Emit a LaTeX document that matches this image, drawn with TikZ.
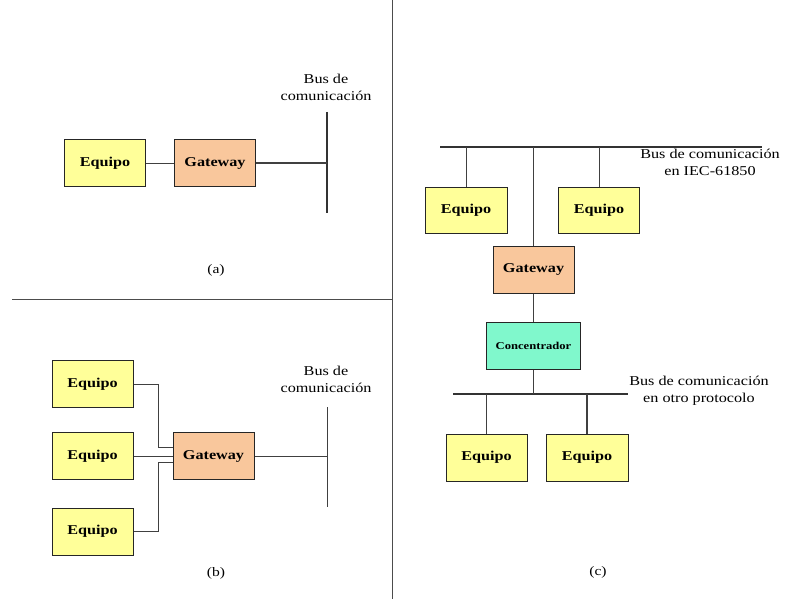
\documentclass[tikz,border=0pt]{standalone}
\usepackage{fontspec}
\setmainfont[FakeStretch=1.2]{Liberation Serif}
\usepackage{tikz}
\usetikzlibrary{positioning}

\definecolor{equipoyellow}{HTML}{FFFF99}
\definecolor{gatewaypeach}{HTML}{F9C79C}
\definecolor{concmint}{HTML}{80F8CC}

\begin{document}
\begin{tikzpicture}[
    x=1pt, y=-1pt,
    every node/.style={align=center},
    box_equipo/.style={
        rectangle,
        draw=black!85,
        line width=1pt,
        fill=equipoyellow,
        minimum width=81pt,
        minimum height=47pt,
        inner sep=0pt,
        font=\fontsize{13.5}{15}\selectfont\bfseries
    },
    box_gateway/.style={
        box_equipo,
        fill=gatewaypeach
    },
    box_conc/.style={
        box_equipo,
        fill=concmint,
        minimum width=94pt,
        font=\fontsize{10.5}{12}\selectfont\bfseries
    },
    bus_label/.style={
        font=\fontsize{13.5}{17}\selectfont,
        inner sep=0pt
    },
    caption/.style={font=\fontsize{13}{14}\selectfont},
    link/.style = {draw=black!75, line width=0.9pt},
    bus/.style = {draw=black!80, line width=1.3pt}
]
    \useasboundingbox (0,0) rectangle (786,599);
    % separadores
    \draw [black!70, line width=0.9pt] (392,0) -- (392,599);
    \draw [black!70, line width=0.9pt] (12,299) -- (392,299);

    % (a)
    \node [box_equipo] (eqa) at (105,163) {Equipo};
    \node [box_gateway, right=28pt of eqa] (gwa) {Gateway};
    \coordinate (busa_top) at (327,112);
    \coordinate (busa_bot) at (327,213);
    \draw [bus] (busa_top) -- (busa_bot);
    \node [bus_label] (labela) at (326,101) [anchor=south] {Bus de\\comunicación};
    \draw [link] (eqa) -- (gwa);
    \draw [link, line width=1.3pt] (gwa) -- (gwa -| busa_top);
    \node [caption] (capa) at (216,270) {(a)};

    % (b)
    \node [box_equipo] (eqb1) at (92.5,384) {Equipo};
    \node [box_equipo] (eqb2) at (92.5,456) {Equipo};
    \node [box_equipo] (eqb3) at (92.5,531.5) {Equipo};
    \node [box_gateway] (gwb) at (213.5,456) {Gateway};
    \coordinate (xb) at (158,0);
    \coordinate (busb_top) at (327,407);
    \coordinate (busb_bot) at (327,507);
    \draw [link] (busb_top) -- (busb_bot);
    \node [bus_label] (labelb) at (326,393) [anchor=south] {Bus de\\comunicación};
    \draw [link] (eqb1) -- (eqb1 -| xb) |- ([yshift=9pt]gwb.west);
    \draw [link] (eqb2) -- (gwb);
    \draw [link] (eqb3) -- (eqb3 -| xb) |- ([yshift=-6pt]gwb.west);
    \draw [link] (gwb) -- (gwb -| busb_top);
    \node [caption] (capb) at (216,573) {(b)};

    % (c)
    \coordinate (busc_l) at (440,147);
    \coordinate (busc_r) at (762,147);
    \draw [bus] (busc_l) -- (busc_r);
    \node [bus_label] (labelc1) at (710,149) [anchor=north] {Bus de comunicación\\en IEC-61850};
    \node [box_equipo, minimum width=82pt, minimum height=46pt] (eqc1) at (466,210) {Equipo};
    \node [box_equipo, minimum height=46pt] (eqc2) at (599,210) {Equipo};
    \node [box_gateway] (gwc) at (533.5,269.5) {Gateway};
    \node [box_conc, below=28pt of gwc] (conc) {Concentrador};
    \draw [link] (eqc1) -- (eqc1 |- busc_l);
    \draw [link] (eqc2) -- (eqc2 |- busc_l);
    \draw [link] (gwc) -- (gwc |- busc_l);
    \draw [link] (gwc) -- (conc);

    \coordinate (busd_l) at (453,394);
    \coordinate (busd_r) at (628,394);
    \draw [bus, line width=1.8pt] (busd_l) -- (busd_r);
    \node [bus_label] (labelc2) at (699,376) [anchor=north] {Bus de comunicación\\en otro protocolo};
    \node [box_equipo] (eqc3) at (486.5,457.5) {Equipo};
    \node [box_equipo, minimum width=82pt] (eqc4) at (587,457.5) {Equipo};
    \draw [link] (conc) -- (conc |- busd_l);
    \draw [link] (eqc3) -- (eqc3 |- busd_l);
    \draw [link, line width=1.3pt] (eqc4) -- (eqc4 |- busd_l);
    \node [caption] (capc) at (598,572) {(c)};
\end{tikzpicture}
\end{document}
